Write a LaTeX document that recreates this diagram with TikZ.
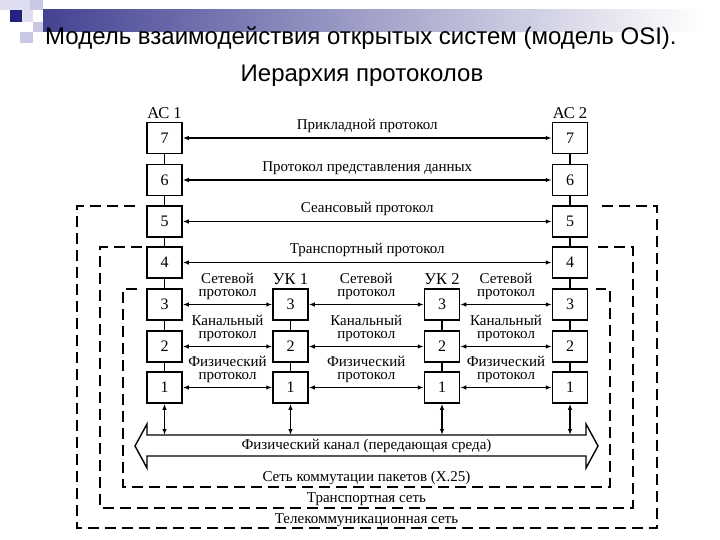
\documentclass[tikz,border=0pt]{standalone}
\usepackage{fontspec}
\setmainfont{Liberation Serif}
\newfontfamily\titlefont{Liberation Sans}
\usetikzlibrary{arrows.meta,positioning}
\definecolor{slideblue}{RGB}{34,34,128}
\definecolor{lilac}{RGB}{200,200,228}
\definecolor{palelilac}{RGB}{222,222,240}
\tikzset{
  layer/.style={draw,line width=1.5pt,minimum width=35pt,minimum height=31pt,inner sep=0pt,font=\fontsize{16}{16}\selectfont},
  link/.style={line width=1.6pt},
  proto/.style={line width=1.2pt,{Latex[length=6pt,width=4.5pt]}-{Latex[length=6pt,width=4.5pt]}},
  lbl/.style={font=\fontsize{15}{15}\selectfont,inner sep=1pt},
  duo/.style={font=\fontsize{15}{13.5}\selectfont,align=center,inner sep=1pt},
  station/.style={font=\fontsize{16.5}{16.5}\selectfont,inner sep=1pt},
  net/.style={line width=1.8pt,dash pattern=on 11pt off 6pt},
}
\begin{document}
\begin{tikzpicture}[x=1pt,y=-1pt]
\useasboundingbox (0,0) rectangle (720,540);
% slide decoration
\fill[palelilac] (0,0) rectangle (30,10);
\fill[lilac] (30,0) rectangle (43,10);
\fill[slideblue] (10,10) rectangle (22,22);
\fill[palelilac] (22,10) rectangle (33,22);
\fill[lilac] (33,22) rectangle (43,32);
\fill[lilac] (20,32) rectangle (33,43);
\shade[left color=slideblue!85,right color=white] (43,10) rectangle (700,32);
\node[anchor=base west,inner sep=0pt,font=\titlefont\fontsize{24}{24}\selectfont] (title) at (45,45) {Модель взаимодействия открытых систем (модель OSI).};
\node[anchor=base,inner sep=0pt,font=\titlefont\fontsize{24}{24}\selectfont] (subtitle) at (362,82) {Иерархия протоколов};
% end system 1
\node[layer] (a7) at (164.5,138) {7};
\node[layer] (a6) at (164.5,180) {6};
\node[layer] (a5) at (164.5,221.5) {5};
\node[layer] (a4) at (164.5,262.5) {4};
\node[layer] (a3) at (164.5,304.5) {3};
\node[layer] (a2) at (164.5,346.5) {2};
\node[layer] (a1) at (164.5,387.5) {1};
\node[station,above=2pt of a7] (as1) {АС 1};
% switching node 1
\node[layer] (u3) at (290.5,304.5) {3};
\node[layer] (u2) at (290.5,346.5) {2};
\node[layer] (u1) at (290.5,387.5) {1};
\node[station,above=2pt of u3] (uk1) {УК 1};
% switching node 2
\node[layer] (v3) at (442,304.5) {3};
\node[layer] (v2) at (442,346.5) {2};
\node[layer] (v1) at (442,387.5) {1};
\node[station,above=2pt of v3] (uk2) {УК 2};
% end system 2
\node[layer] (b7) at (570,138) {7};
\node[layer] (b6) at (570,180) {6};
\node[layer] (b5) at (570,221.5) {5};
\node[layer] (b4) at (570,262.5) {4};
\node[layer] (b3) at (570,304.5) {3};
\node[layer] (b2) at (570,346.5) {2};
\node[layer] (b1) at (570,387.5) {1};
\node[station,above=2pt of b7] (as2) {АС 2};
% stacks
\draw[link] (a7) -- (a6) -- (a5) -- (a4) -- (a3) -- (a2) -- (a1);
\draw[link] (b7) -- (b6) -- (b5) -- (b4) -- (b3) -- (b2) -- (b1);
\draw[link] (u3) -- (u2) -- (u1);
\draw[link] (v3) -- (v2) -- (v1);
% end-to-end protocols
\draw[proto] (a7) -- node[lbl,above=4pt] {Прикладной протокол} (b7);
\draw[proto] (a6) -- node[lbl,above=4pt] {Протокол представления данных} (b6);
\draw[proto] (a5) -- node[lbl,above=4pt] {Сеансовый протокол} (b5);
\draw[proto] (a4) -- node[lbl,above=4pt] {Транспортный протокол} (b4);
% hop-by-hop protocols
\draw[proto] (a3) -- node[duo,above=3pt] {Сетевой\\протокол} (u3);
\draw[proto] (u3) -- node[duo,above=3pt] {Сетевой\\протокол} (v3);
\draw[proto] (v3) -- node[duo,above=3pt] {Сетевой\\протокол} (b3);
\draw[proto] (a2) -- node[duo,above=3pt] {Канальный\\протокол} (u2);
\draw[proto] (u2) -- node[duo,above=3pt] {Канальный\\протокол} (v2);
\draw[proto] (v2) -- node[duo,above=3pt] {Канальный\\протокол} (b2);
\draw[proto] (a1) -- node[duo,above=3pt] {Физический\\протокол} (u1);
\draw[proto] (u1) -- node[duo,above=3pt] {Физический\\протокол} (v1);
\draw[proto] (v1) -- node[duo,above=3pt] {Физический\\протокол} (b1);
% physical channel
\draw[line width=1.4pt,line join=miter] (135,446) -- (147,424) -- (147,435) -- (586,435) -- (586,424) -- (598,446)
  -- (586,468) -- (586,456) -- (147,456) -- (147,468) -- cycle;
\node[lbl] (chan) at (366.5,445.5) {Физический канал (передающая среда)};
\coordinate (chtop) at (0,435);
\draw[proto] (a1) -- (a1 |- chtop);
\draw[proto] (u1) -- (u1 |- chtop);
\draw[proto] (v1) -- (v1 |- chtop);
\draw[proto] (b1) -- (b1 |- chtop);
% networks
\draw[net] (137,289) -- (123,289) -- (123,487) -- (610,487) -- (610,289) -- (596,289);
\node[lbl] (x25) at (366.5,478) {Сеть коммутации пакетов (X.25)};
\draw[net] (142,247) -- (100,247) -- (100,508) -- (633,508) -- (633,247) -- (598,247);
\node[lbl] (trans) at (366.5,499) {Транспортная сеть};
\draw[net] (135,206) -- (77,206) -- (77,528) -- (657,528) -- (657,206) -- (598,206);
\node[lbl] (tele) at (366.5,520) {Телекоммуникационная сеть};
\end{tikzpicture}
\end{document}
